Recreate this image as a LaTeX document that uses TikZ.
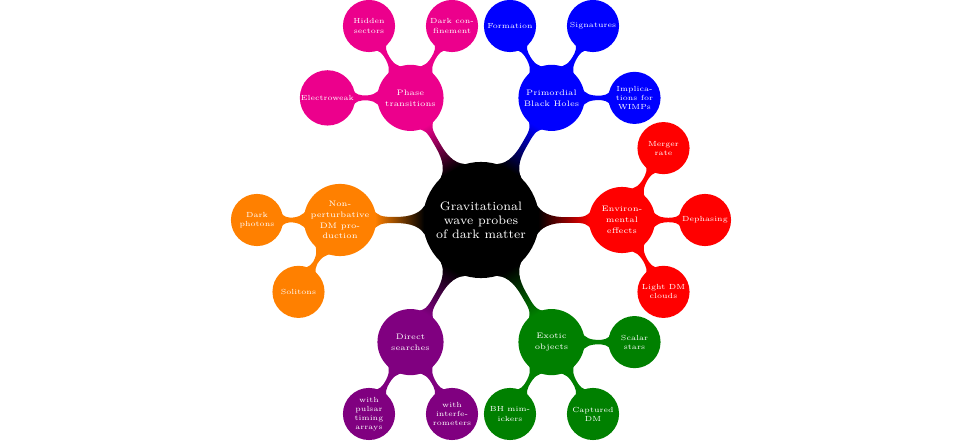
\documentclass[tikz,border=0pt]{standalone}
\usetikzlibrary{mindmap}
\definecolor{phasecol}{RGB}{236,0,140}
\definecolor{pbhcol}{RGB}{0,0,255}
\definecolor{envcol}{RGB}{255,0,0}
\definecolor{exoticcol}{RGB}{0,128,0}
\definecolor{directcol}{RGB}{128,0,128}
\definecolor{npcol}{RGB}{255,128,0}

\begin{document}
\begin{tikzpicture}[mindmap, concept color=black,
    every node/.style={concept, text=white, inner sep=0pt, text width=, align=center},
    root concept/.append style={minimum size=2.28cm, text width=,
      font=\fontsize{7}{8}\selectfont},
    level 1 concept/.append style={level distance=2.82cm, minimum size=1.28cm,
      text width=, font=\fontsize{4.5}{6.2}\selectfont},
    level 2 concept/.append style={level distance=1.66cm, minimum size=1cm,
      text width=, font=\fontsize{4.2}{5.2}\selectfont}]
  \useasboundingbox (-9.62,-4.5) rectangle (9.58,4.4);
  \node[root concept] (gw) {Gravitational\\wave probes\\of dark matter}
    child[grow=120, concept color=phasecol] {node (pt) {Phase\\transitions}
      child[grow=180] {node (ew) {Electroweak}}
      child[grow=120] {node (hs) {Hidden\\sectors}}
      child[grow=60] {node (dc) {Dark con-\\finement}}}
    child[grow=60, concept color=pbhcol] {node (pbh) {Primordial\\Black Holes}
      child[grow=120] {node (form) {Formation}}
      child[grow=60] {node (sig) {Signatures}}
      child[grow=0] {node (wimp) {Implica-\\tions for\\WIMPs}}}
    child[grow=0, concept color=envcol] {node (env) {Environ-\\mental\\effects}
      child[grow=60] {node (mr) {Merger\\rate}}
      child[grow=0] {node (deph) {Dephasing}}
      child[grow=-60] {node (ldm) {Light DM\\clouds}}}
    child[grow=-60, concept color=exoticcol] {node (exo) {Exotic\\objects}
      child[grow=0] {node (ss) {Scalar\\stars}}
      child[grow=-60] {node (cap) {Captured\\DM}}
      child[grow=-120] {node (bhm) {BH mim-\\ickers}}}
    child[grow=-120, concept color=directcol] {node (ds) {Direct\\searches}
      child[grow=-120] {node (pta) {with\\pulsar\\timing\\arrays}}
      child[grow=-60] {node (ifo) {with\\interfe-\\rometers}}}
    child[grow=180, concept color=npcol] {node (np) {Non-\\perturbative\\DM pro-\\duction}
      child[grow=180] {node (dp) {Dark\\photons}}
      child[grow=-120] {node (sol) {Solitons}}};
\end{tikzpicture}
\end{document}
